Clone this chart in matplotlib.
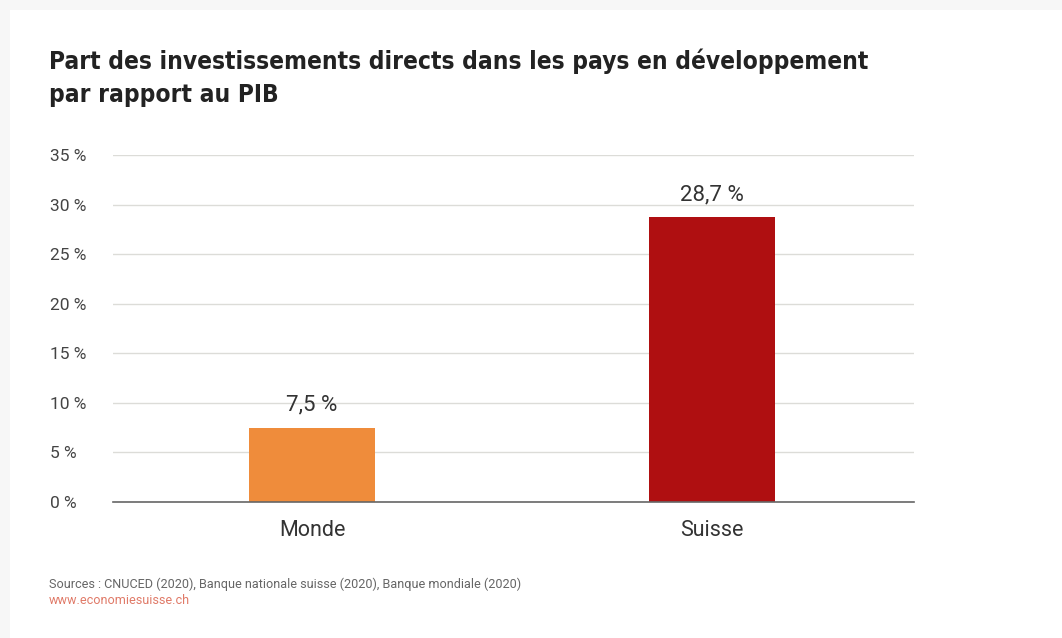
#!/usr/bin/env python3
import matplotlib
matplotlib.use('Agg')
import matplotlib.pyplot as plt

categories = ['Monde', 'Suisse']
values = [7.5, 28.7]
colors = ['#ef8c3b', '#af0f11']
yticks = [0, 5, 10, 15, 20, 25, 30, 35]

title = 'Part des investissements directs dans les pays en développement\npar rapport au PIB'
source = 'Sources : CNUCED (2020), Banque nationale suisse (2020), Banque mondiale (2020)'
url = 'www.economiesuisse.ch'

plt.rcParams['font.family'] = ['Roboto', 'DejaVu Sans']

W, H = 1062, 638
fig = plt.figure(figsize=(W / 100, H / 100), dpi=100)
fig.patch.set_facecolor('#f7f7f7')
# white card behind everything
card = fig.add_axes([10 / W, 0, 1, 1 - 10 / H], zorder=-1)
card.set_facecolor('white')
card.set_xticks([])
card.set_yticks([])
for s in card.spines.values():
    s.set_visible(False)

ax = fig.add_axes([113 / W, 1 - 502 / H, (914 - 113) / W, (502 - 155) / H], zorder=1)
ax.set_facecolor('none')
x = list(range(len(categories)))
ax.bar(x, values, width=0.315, color=colors, zorder=3)
for xi, v in zip(x, values):
    ax.text(xi, v + 1.2, f'{v:.1f} %'.replace('.', ','), ha='center', va='bottom',
            fontsize=16, color='#333333')

ax.set_xlim(-0.4975, 1.505)
ax.set_ylim(0, 35)
ax.set_yticks(yticks)
ax.set_yticklabels([f'{t} %' for t in yticks], fontsize=12.5, color='#444444')
ax.set_xticks(x)
ax.set_xticklabels(categories, fontsize=15.5, color='#333333')
ax.tick_params(axis='both', length=0)
ax.tick_params(axis='y', pad=45)
ax.tick_params(axis='x', pad=13)
for lab in ax.get_yticklabels():
    lab.set_horizontalalignment('left')
ax.yaxis.grid(True, color='#dcdcd8', linewidth=1, zorder=0)
for s in ['top', 'right', 'left']:
    ax.spines[s].set_visible(False)
ax.spines['bottom'].set_color('#666666')
ax.spines['bottom'].set_linewidth(1.2)
ax.spines['bottom'].set_zorder(4)

fig.text(49 / W, 1 - 48 / H, title, ha='left', va='top', fontsize=17.6,
         fontweight='bold', fontstretch='condensed', color='#222222', linespacing=1.5,
         family=['DejaVu Sans'])
fig.text(49 / W, 1 - 584 / H, source, ha='left', va='center', fontsize=9.1, color='#666666')
fig.text(49 / W, 1 - 601 / H, url, ha='left', va='center', fontsize=9.1, color='#e07a68')

plt.savefig('out.png', dpi=100, facecolor=fig.get_facecolor())
